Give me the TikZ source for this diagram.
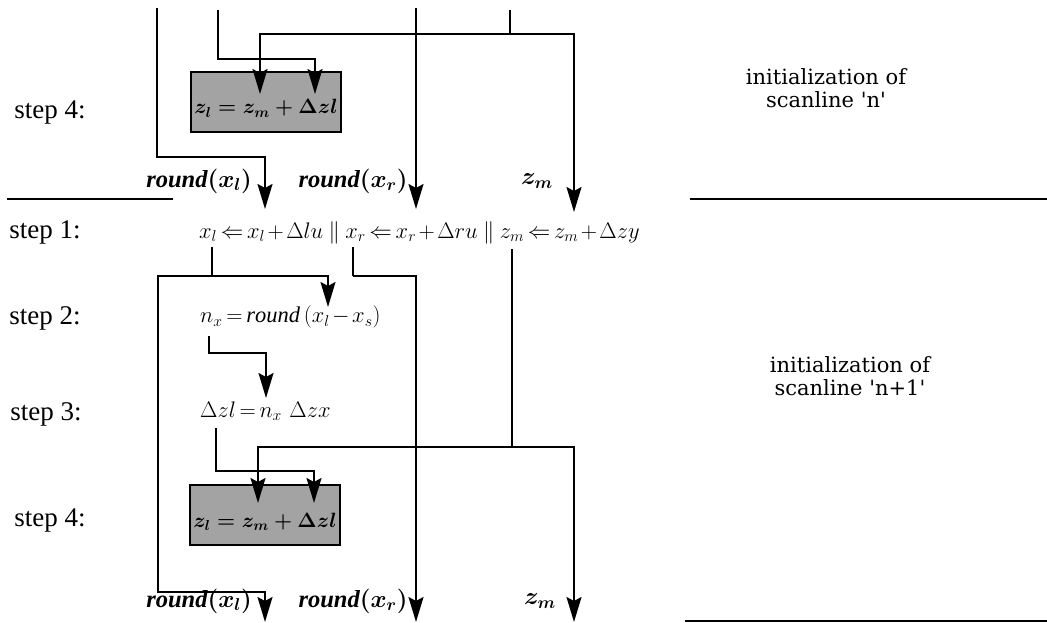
\RequirePackage{fix-cm}
\documentclass[tikz,border=0pt]{standalone}
\usepackage{fontspec}
\setmainfont{Liberation Serif}
\newfontfamily\initfont{DejaVu Serif}
\newcommand\tightmath{\thickmuskip=3mu\relax\medmuskip=2mu\relax}
\usetikzlibrary{arrows.meta, positioning}
\tikzset{
  steplabel/.style = {font=\fontsize{27}{30}\selectfont, inner sep=0pt},
  initlabel/.style = {font=\initfont\fontsize{21}{23}\selectfont, align=center, inner sep=0pt},
  eqn/.style = {font=\fontsize{22.5}{26}\selectfont, execute at begin node=\tightmath, inner sep=0pt},
  varlabel/.style = {font=\fontsize{24.5}{26}\selectfont\boldmath, inner sep=0pt},
  assign/.style = {rectangle, draw=black, line width=1.6pt, fill=black!36, minimum width=142pt, minimum height=60pt, text height=30pt, text depth=6pt, font=\fontsize{20.7}{24}\selectfont\boldmath},
  wire/.style = {line width=1.1pt},
  flow/.style = {line width=1.8pt, -{Stealth[length=25pt, width=15pt, inset=4pt]}},
  sepline/.style = {line width=1.6pt}
}

\begin{document}
\begin{tikzpicture}[x=1pt, y=-1pt]
\useasboundingbox (0,0) rectangle (1047,623);

% step labels
\node[steplabel] (s4a) at (50,112) {step 4:};
\node[steplabel] (s1) at (45,232) {step 1:};
\node[steplabel] (s2) at (45,318) {step 2:};
\node[steplabel] (s3) at (46,414) {step 3:};
\node[steplabel] (s4b) at (50,520) {step 4:};

% scanline boundaries
\draw[sepline] (7,199) -- (173,199);
\draw[sepline] (690,199) -- (1047,199);
\draw[sepline] (685,621) -- (1047,621);

\node[initlabel] (initn) at (826,88) {initialization of\\scanline \textquotesingle n\textquotesingle};
\node[initlabel] (initnn) at (850,376) {initialization of\\scanline \textquotesingle n+1\textquotesingle};

% shaded assignments
\node[assign] (boxn) at (266,102) {$z_l = z_m + \Delta zl$};
\node[assign] (boxnn) at (265,515) {$z_l = z_m + \Delta zl$};

% step 1 .. 3
\node[eqn, anchor=west] (eqxl) at (199,232) {$x_l \Leftarrow x_l + \Delta lu$};
\node[eqn, base right=5pt of eqxl] (bar1) {$\|$};
\node[eqn, base right=5pt of bar1] (eqxr) {$x_r \Leftarrow x_r + \Delta ru$};
\node[eqn, base right=5pt of eqxr] (bar2) {$\|$};
\node[eqn, base right=5pt of bar2] (eqzm) {$z_m \Leftarrow z_m + \Delta zy$};
\node[eqn, anchor=west] (eqnx) at (200,317) {$n_x = \mathit{round}\;\Bigl(x_l - x_s\Bigr)$};
\node[eqn, anchor=west] (eqdz) at (200,411) {$\Delta zl = n_x\;\;\Delta zx$};

% values handed on
\node[varlabel] (rxlT) at (199,181) {$\mathit{round}(x_l)$};
\node[varlabel] (rxrT) at (353,181) {$\mathit{round}(x_r)$};
\node[varlabel] (zmT) at (537,181) {$z_m$};
\node[varlabel] (rxlB) at (199,601) {$\mathit{round}(x_l)$};
\node[varlabel] (rxrB) at (353,601) {$\mathit{round}(x_r)$};
\node[varlabel] (zmB) at (540,601) {$z_m$};

% wire points
\coordinate (inxl) at (157,8);
\coordinate (indz) at (218,10);
\coordinate (inxr) at (416,8);
\coordinate (inzm) at (510,10);
\coordinate (zmsplit) at (510,34);
\coordinate (xlstem) at (212,247);
\coordinate (xljoin) at (212,276);
\coordinate (xrstem) at (353,247);
\coordinate (xrjoin) at (353,276);
\coordinate (zmstem) at (512,249);
\coordinate (zmjoin) at (512,447);
\coordinate (nxstem) at (209,336);
\coordinate (dzstem) at (216,428);

% into scanline n
\draw[flow] (inxl) |- (265,157) -- (265,209);
\draw[flow] (indz) |- (315,59) -- (315,94);
\draw[flow] (inxr) -- (416,209);
\draw[wire] (inzm) -- (zmsplit);
\draw[flow] (zmsplit) -| (260,94);
\draw[flow] (zmsplit) -| (574,212);

% scanline n+1
\draw[wire] (xlstem) -- (xljoin);
\draw[flow] (xljoin) -| (328,307);
\draw[flow] (xljoin) -| (158,592) -| (265,622);
\draw[wire] (xrstem) -- (xrjoin);
\draw[flow] (xrjoin) -| (416,622);
\draw[wire] (zmstem) -- (zmjoin);
\draw[flow] (zmjoin) -| (258,503);
\draw[flow] (zmjoin) -| (574,622);
\draw[flow] (nxstem) |- (266,353) -- (266,398);
\draw[flow] (dzstem) |- (314,471) -- (314,503);
\end{tikzpicture}
\end{document}
